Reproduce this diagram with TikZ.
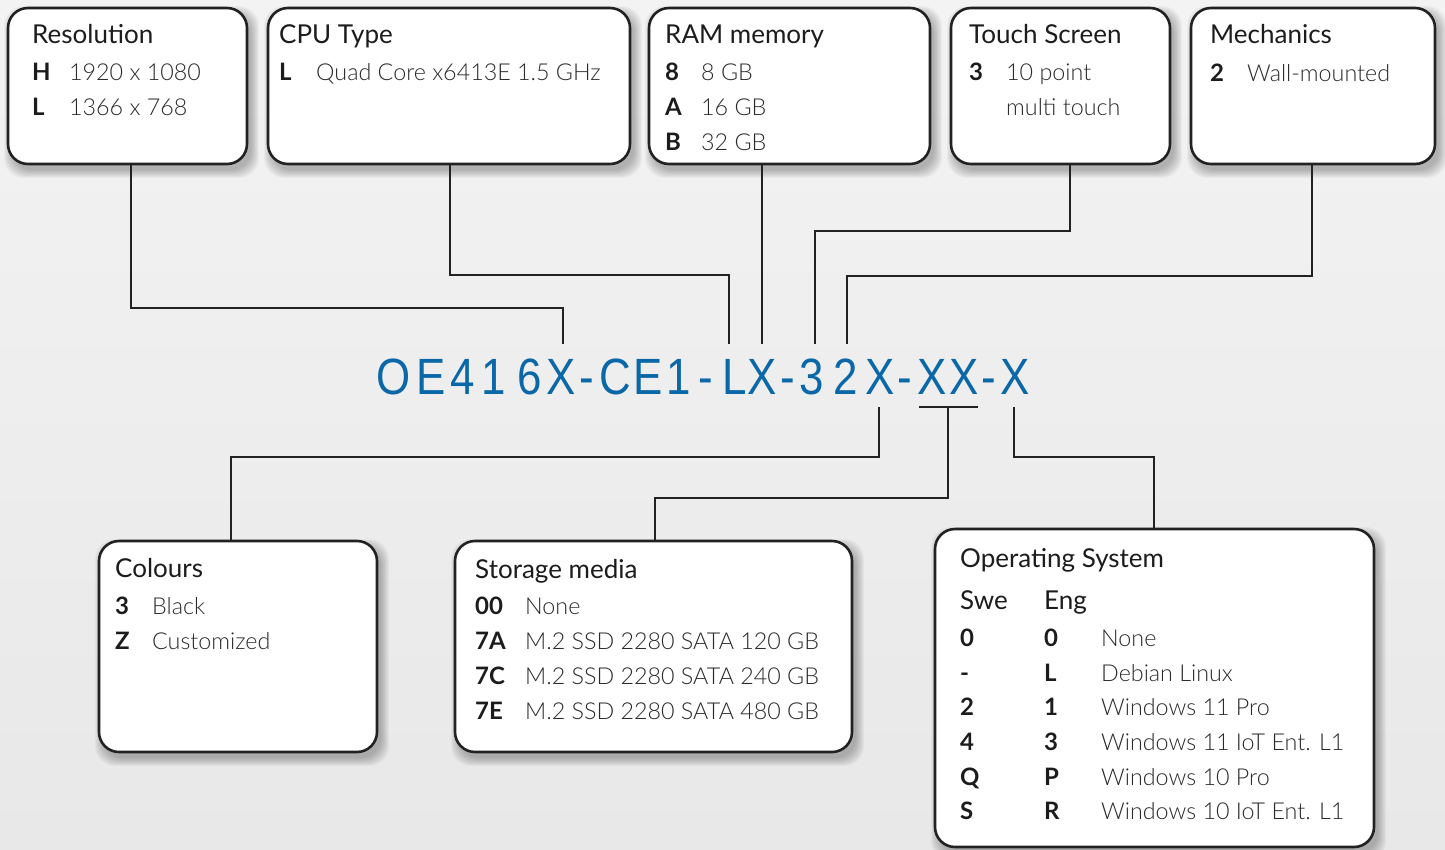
\documentclass[tikz,border=0pt]{standalone}
\usepackage{fontspec}
\setmainfont{Lato}
\newfontfamily\lightf{Lato Light}
\newfontfamily\codef[FakeStretch=0.86]{Liberation Sans}
\usetikzlibrary{backgrounds}
\definecolor{linec}{HTML}{222222}
\definecolor{titlec}{HTML}{1C1C1C}
\definecolor{valc}{HTML}{2A2A2A}
\definecolor{codeblue}{HTML}{0A67A8}
\definecolor{bgtop}{HTML}{F3F3F3}
\definecolor{bgbot}{HTML}{E8E8E8}
\tikzset{
  box/.style={draw=linec, line width=2.6pt, rounded corners=20pt, fill=white, inner sep=0pt, outer sep=0pt, anchor=north west},
  conn/.style={draw=linec, line width=2.3pt},
  ttl/.style={anchor=base west, inner sep=0pt, text=titlec, font=\fontsize{26}{30}\selectfont},
  key/.style={anchor=base west, inner sep=0pt, text=titlec, font=\fontsize{24}{28}\selectfont\bfseries},
  val/.style={anchor=base west, inner sep=0pt, text=valc, font=\fontsize{23.3}{28}\selectfont\lightf},
  codech/.style={anchor=base, inner sep=0pt, text=codeblue, font=\fontsize{51}{56}\selectfont\codef}
}
\newcommand\entry[6]{\node[key] (#1k) at (#2,#4) {#5};\node[val] (#1v) at (#3,#4) {#6};}
\newcommand\boxshadow[1]{\foreach \k in {0,...,8}{\fill[black, opacity=0.03, rounded corners=20pt] ([shift={({4pt-\k*1pt},{-6pt+\k*1pt})}]#1.north west) rectangle ([shift={({4pt+\k*1pt},{-6pt-\k*1pt})}]#1.south east);}}
\begin{document}
\begin{tikzpicture}[x=1pt,y=-1pt]
\useasboundingbox (0,0) rectangle (1445,849);
% boxes
\node[box, minimum width=239pt, minimum height=156pt] (res) at (8,8) {};
\node[box, minimum width=362pt, minimum height=156pt] (cpu) at (268,8) {};
\node[box, minimum width=281pt, minimum height=156pt] (ram) at (649,8) {};
\node[box, minimum width=219pt, minimum height=156pt] (touch) at (951,8) {};
\node[box, minimum width=244pt, minimum height=156pt] (mech) at (1191,8) {};
\node[box, minimum width=278pt, minimum height=211pt] (col) at (99,541) {};
\node[box, minimum width=397pt, minimum height=211pt] (sto) at (455,541) {};
\node[box, minimum width=439pt, minimum height=318pt] (os) at (935,529) {};
\begin{scope}[on background layer]
  \shade[top color=bgtop, bottom color=bgbot] (0,0) rectangle (1445,849);
  \boxshadow{res}\boxshadow{cpu}\boxshadow{ram}\boxshadow{touch}\boxshadow{mech}
  \boxshadow{col}\boxshadow{sto}\boxshadow{os}
\end{scope}
% texts top
\node[ttl] (resT) at (32,43) {Resolution};
\entry{resa}{32}{69}{80}{H}{1920 x 1080}
\entry{resb}{32}{69}{115}{L}{1366 x 768}
\node[ttl] (cpuT) at (279,43) {CPU Type};
\entry{cpua}{279}{316}{80}{L}{Quad Core x6413E 1.5 GHz}
\node[ttl] (ramT) at (665,43) {RAM memory};
\entry{rama}{665}{701}{80}{8}{8 GB}
\entry{ramb}{665}{701}{115}{A}{16 GB}
\entry{ramc}{665}{701}{150}{B}{32 GB}
\node[ttl] (touchT) at (969,43) {Touch Screen};
\entry{toua}{969}{1006}{80}{3}{10 point}
\node[val] (toub) at (1006,115) {multi touch};
\node[ttl] (mechT) at (1210,43) {Mechanics};
\entry{meca}{1210}{1247}{81}{2}{Wall-mounted}
% texts bottom
\node[ttl] (colT) at (115,577) {Colours};
\entry{cola}{115}{152}{614}{3}{Black}
\entry{colb}{115}{152}{649}{Z}{Customized}
\node[ttl] (stoT) at (475,578) {Storage media};
\entry{stoa}{475}{525}{614}{00}{None}
\entry{stob}{475}{525}{649}{7A}{M.2 SSD 2280 SATA 120 GB}
\entry{stoc}{475}{525}{684}{7C}{M.2 SSD 2280 SATA 240 GB}
\entry{stod}{475}{525}{719}{7E}{M.2 SSD 2280 SATA 480 GB}
\node[ttl] (osT) at (960,567) {Operating System};
\node[ttl] (osSwe) at (960,609) {Swe};
\node[ttl] (osEng) at (1044,609) {Eng};
\foreach \s/\e/\v/\y [count=\i] in {0/0/None/646, -/L/Debian Linux/681, 2/1/Windows 11 Pro/715, 4/3/Windows 11 IoT Ent. L1/750, Q/P/Windows 10 Pro/785, S/R/Windows 10 IoT Ent. L1/819}{
  \node[key] (oss\i) at (960,\y) {\s};
  \node[key] (ose\i) at (1044,\y) {\e};
  \node[val] (osv\i) at (1101,\y) {\v};
}
% code characters
\foreach \ch/\x [count=\i] in {O/394, E/431, 4/463, 1/494, 6/530, X/561, -/587, C/615, E/648, 1/679, -/706, L/735, X/762, -/788, 3/812, 2/846, X/880, -/905, X/932, X/964, -/989, X/1015}{
  \node[codech] (c\i) at (\x,394) {\ch};
}
% connector coordinates
\coordinate (a1) at (131,308); \coordinate (t1) at (563,344);
\coordinate (a2) at (450,275); \coordinate (t2) at (729,344);
\coordinate (t3) at (762,344);
\coordinate (a4) at (1070,231); \coordinate (t4) at (815,344);
\coordinate (a5) at (1312,276); \coordinate (t5) at (847,344);
\coordinate (b1) at (879,407); \coordinate (a6) at (231,457);
\coordinate (bl) at (919,407); \coordinate (br) at (978,407);
\coordinate (b2) at (948,407); \coordinate (a7) at (655,498);
\coordinate (b3) at (1014,407); \coordinate (a8) at (1154,457);
% connectors
\draw[conn] (res.south -| a1) -- (a1) -| (t1);
\draw[conn] (cpu.south -| a2) -- (a2) -| (t2);
\draw[conn] (ram.south -| t3) -- (t3);
\draw[conn] (touch.south -| a4) -- (a4) -| (t4);
\draw[conn] (mech.south -| a5) -- (a5) -| (t5);
\draw[conn] (b1) |- (a6) -- (col.north -| a6);
\draw[conn] (bl) -- (br);
\draw[conn] (b2) |- (a7) -- (sto.north -| a7);
\draw[conn] (b3) |- (a8) -- (os.north -| a8);
\end{tikzpicture}
\end{document}
